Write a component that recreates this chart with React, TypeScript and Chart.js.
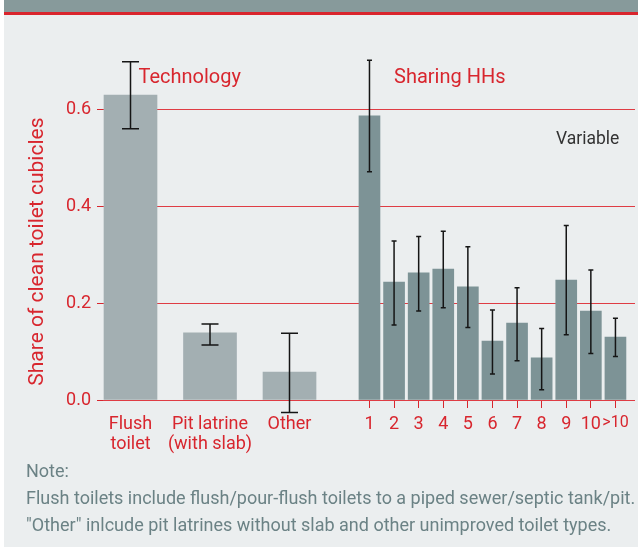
import React, { useEffect, useRef } from 'react';
import { Chart, registerables } from 'chart.js';

Chart.register(...registerables);

// ---------- data ----------
const techLabels: (string | string[])[] = [['Flush', 'toilet'], ['Pit latrine', '(with slab)'], ['Other']];
const techValues = [0.631, 0.139, 0.058];
const techLow = [0.561, 0.114, -0.026];
const techHigh = [0.7, 0.157, 0.138];

const shareLabels = ['1', '2', '3', '4', '5', '6', '7', '8', '9', '10', '>10'];
const shareValues = [0.588, 0.244, 0.263, 0.271, 0.234, 0.122, 0.159, 0.087, 0.248, 0.184, 0.13];
const shareLow = [0.472, 0.155, 0.184, 0.191, 0.15, 0.054, 0.081, 0.021, 0.135, 0.096, 0.09];
const shareHigh = [0.703, 0.329, 0.338, 0.349, 0.317, 0.186, 0.232, 0.148, 0.361, 0.269, 0.169];

const yTickValues = [0, 0.2, 0.4, 0.6];

// ---------- layout constants ----------
const X_MIN = -0.346;
const X_MAX = 6.346;
const SHARE_START = 3.006;
const SHARE_STEP = 0.3094;
const Y_MAX = 0.614;

const RED = '#d8262e';
const GRID = '#df3c44';
const TEXT_FONT = 'Roboto, "Liberation Sans", Arial, sans-serif';

const techPos = techLabels.map((_, i) => i);
const sharePos = shareLabels.map((_, j) => SHARE_START + j * SHARE_STEP);
const allPos = [...techPos, ...sharePos];
const allLabels = [...techLabels, ...shareLabels];

const errorBarPlugin = {
  id: 'errorBars',
  afterDatasetsDraw(chart: any) {
    const ctx = chart.ctx;
    const yScale = chart.scales.y;
    chart.data.datasets.forEach((ds: any, d: number) => {
      const meta = chart.getDatasetMeta(d);
      meta.data.forEach((bar: any, i: number) => {
        const x = bar.x;
        const yl = yScale.getPixelForValue(ds.errLow[i]);
        const yh = yScale.getPixelForValue(ds.errHigh[i]);
        const c = ds.errCap / 2;
        ctx.save();
        ctx.strokeStyle = '#151515';
        ctx.lineWidth = 1.5;
        ctx.beginPath();
        ctx.moveTo(x, yh);
        ctx.lineTo(x, yl);
        ctx.moveTo(x - c, yh);
        ctx.lineTo(x + c, yh);
        ctx.moveTo(x - c, yl);
        ctx.lineTo(x + c, yl);
        ctx.stroke();
        ctx.restore();
      });
    });
  },
};

export default function App() {
  const canvasRef = useRef<HTMLCanvasElement | null>(null);

  useEffect(() => {
    if (!canvasRef.current) return;
    Chart.defaults.font.family = TEXT_FONT;
    const chart = new Chart(canvasRef.current, {
      type: 'bar',
      data: {
        datasets: [
          {
            data: techValues.map((v, i) => ({ x: techPos[i], y: v })),
            backgroundColor: '#a3afb2',
            barThickness: 53,
            stack: 'all',
            clip: false,
            errLow: techLow,
            errHigh: techHigh,
            errCap: 17,
          } as any,
          {
            data: shareValues.map((v, i) => ({ x: sharePos[i], y: v })),
            backgroundColor: '#7d9396',
            barThickness: 21,
            stack: 'all',
            clip: false,
            errLow: shareLow,
            errHigh: shareHigh,
            errCap: 5,
          } as any,
        ],
      },
      options: {
        animation: false,
        responsive: false,
        layout: { padding: { top: 103.2, right: 3, left: 0, bottom: 0 } },
        plugins: { legend: { display: false }, tooltip: { enabled: false } },
        scales: {
          x: {
            type: 'linear',
            min: X_MIN,
            max: X_MAX,
            offset: false,
            afterBuildTicks: (s: any) => {
              s.ticks = allPos.map((v) => ({ value: v }));
            },
            afterFit: (s: any) => {
              s.height = 60;
            },
            ticks: {
              autoSkip: false,
              maxRotation: 0,
              minRotation: 0,
              padding: 6,
              color: RED,
              font: (c: any) =>
                c.index === allLabels.length - 1 ? { size: 16, lineHeight: 1.12 } : { size: 18, lineHeight: 1.12 },
              callback: (_v: any, i: number) => allLabels[i] as any,
            },
            grid: {
              offset: false,
              drawOnChartArea: false,
              drawTicks: true,
              tickLength: 8,
              color: 'rgba(0,0,0,0)',
              tickColor: (c: any) => (c.index >= techLabels.length ? RED : 'rgba(0,0,0,0)'),
              tickWidth: 1,
            },
            border: { display: false },
          },
          y: {
            type: 'linear',
            min: 0,
            max: Y_MAX,
            stacked: false,
            afterBuildTicks: (s: any) => {
              s.ticks = yTickValues.map((v) => ({ value: v }));
            },
            afterFit: (s: any) => {
              s.width = 103;
            },
            ticks: {
              color: RED,
              font: { size: 18 },
              padding: 6,
              callback: (v: any) => Number(v).toFixed(1),
            },
            grid: { color: () => GRID, tickColor: RED, tickLength: 6, lineWidth: 1 },
            border: { display: false },
            title: {
              display: true,
              text: 'Share of clean toilet cubicles',
              color: RED,
              font: { size: 21 },
              padding: { top: 25, bottom: 0 },
            },
          },
        },
      } as any,
      plugins: [errorBarPlugin],
    });
    return () => chart.destroy();
  }, []);

  const abs = (s: React.CSSProperties): React.CSSProperties => ({ position: 'absolute', ...s });

  return (
    <div style={{ position: 'fixed', left: 0, top: 0, width: 638, height: 547, background: '#ffffff', overflow: 'hidden', fontFamily: TEXT_FONT }}>
      <div style={abs({ left: 4, top: 0, width: 634, height: 547, background: '#ebeeef' })} />
      <div style={abs({ left: 4, top: 0, width: 634, height: 12, background: '#879a9b' })} />
      <div style={abs({ left: 4, top: 12, width: 634, height: 3, background: '#d9252d' })} />
      <canvas ref={canvasRef} width={638} height={460} style={abs({ left: 0, top: 0, width: 638, height: 460, display: 'block' })} />
      <div style={abs({ left: 138.5, top: 65.9, fontSize: 20, lineHeight: '20px', color: RED, whiteSpace: 'nowrap' })}>Technology</div>
      <div style={abs({ left: 394, top: 65.5, fontSize: 20, lineHeight: '20px', color: RED, whiteSpace: 'nowrap' })}>Sharing HHs</div>
      <div style={abs({ left: 556, top: 130.3, fontSize: 17.5, lineHeight: '17.5px', color: '#333333', whiteSpace: 'nowrap' })}>Variable</div>
      <div style={abs({ left: 26, top: 457.4, fontSize: 18, lineHeight: '27px', color: '#6b8285', whiteSpace: 'nowrap' })}>
        <div>Note:</div>
        <div>Flush toilets include flush/pour-flush toilets to a piped sewer/septic tank/pit.</div>
        <div>"Other" inlcude pit latrines without slab and other unimproved toilet types.</div>
      </div>
    </div>
  );
}
